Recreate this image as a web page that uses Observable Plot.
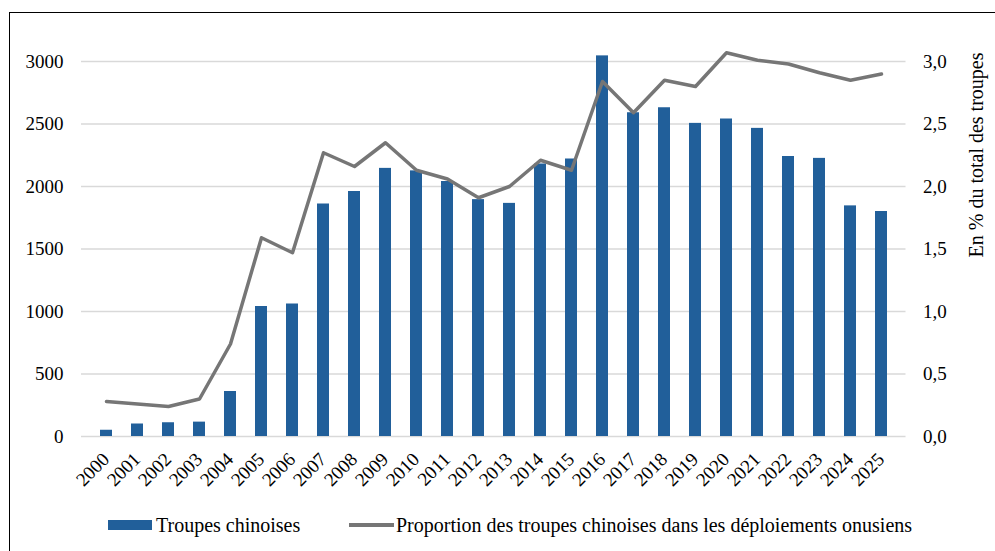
<!DOCTYPE html>
<html>
<head>
<meta charset="utf-8">
<script src="https://cdn.jsdelivr.net/npm/d3@7"></script>
<script src="https://cdn.jsdelivr.net/npm/@observablehq/plot@0.6"></script>
<style>
  html, body { margin: 0; padding: 0; background: #fff; width: 995px; height: 551px; overflow: hidden;
    font-family: "Liberation Serif", "Times New Roman", serif; }
  #frame { position: absolute; left: 9px; top: 12px; width: 1100px; height: 700px;
    border-left: 1.5px solid #000; border-top: 1.5px solid #000; box-sizing: border-box; }
  #chart { position: absolute; left: 0; top: 0; }
  #chart svg, #chart svg text { font-family: "Liberation Serif", "Times New Roman", serif !important; }
  .legend-item { position: absolute; top: 512px; height: 26px; line-height: 26px; display: flex;
    align-items: center; font-size: 20px; color: #000; white-space: nowrap; }
  .sw-bar { width: 44px; height: 10px; background: #215f9a; margin-right: 4px; }
  .sw-line { width: 45px; height: 3.5px; background: #767676; margin-right: 2px; }
</style>
</head>
<body>
<div id="frame"></div>
<div id="chart"></div>
<div class="legend-item" style="left:108px"><span class="sw-bar"></span><span id="lg1"></span></div>
<div class="legend-item" style="left:349px"><span class="sw-line"></span><span id="lg2"></span></div>
<script>
// ---- Data ----
const years = [2000, 2001, 2002, 2003, 2004, 2005, 2006, 2007, 2008, 2009, 2010, 2011, 2012,
  2013, 2014, 2015, 2016, 2017, 2018, 2019, 2020, 2021, 2022, 2023, 2024, 2025];
const troops = [50, 100, 110, 115, 360, 1040, 1060, 1860, 1960, 2145, 2125, 2040, 1895,
  1865, 2180, 2220, 3045, 2590, 2630, 2505, 2540, 2465, 2240, 2225, 1845, 1800];
const pct = [0.28, 0.26, 0.24, 0.30, 0.74, 1.59, 1.47, 2.27, 2.16, 2.35, 2.13, 2.06, 1.91,
  2.00, 2.21, 2.13, 2.84, 2.59, 2.85, 2.80, 3.07, 3.01, 2.98, 2.91, 2.85, 2.90];
const leftTicks = [0, 500, 1000, 1500, 2000, 2500, 3000];
const rightTicks = [0, 0.5, 1.0, 1.5, 2.0, 2.5, 3.0];
const seriesBar = "Troupes chinoises";
const seriesLine = "Proportion des troupes chinoises dans les déploiements onusiens";
const rightTitle = "En % du total des troupes";
const axisRatio = 1000; // 3,0 % on the right axis lines up with 3000 on the left axis

const rows = years.map((y, i) => ({year: y, troops: troops[i], pct: pct[i]}));
const fmtPct = d => (d / axisRatio).toFixed(1).replace(".", ",");

const chart = Plot.plot({
  width: 995,
  height: 500,
  marginTop: 48.5,
  marginBottom: 64,
  marginLeft: 81,
  marginRight: 89.5,
  style: {fontSize: "19px", color: "#000", background: "transparent"},
  x: {type: "band", domain: years, paddingInner: 0.6, paddingOuter: 0.3, axis: null},
  y: {domain: [0, 3100], axis: null},
  marks: [
    Plot.gridY(leftTicks, {stroke: "#d9d9d9", strokeOpacity: 1, strokeWidth: 1.5}),
    Plot.barY(rows, {x: "year", y: "troops", fill: "#215f9a"}),
    Plot.line(rows, {x: "year", y: d => d.pct * axisRatio, stroke: "#767676", strokeWidth: 3.5, strokeLinejoin: "round"}),
    Plot.axisY(leftTicks, {anchor: "left", tickSize: 0, tickPadding: 18, label: null, tickFormat: d => String(d), fill: "#000"}),
    Plot.axisY(rightTicks.map(t => t * axisRatio), {anchor: "right", tickSize: 0, tickPadding: 17, label: null, tickFormat: fmtPct, fill: "#000"}),
    Plot.text(years, {x: d => d, text: d => String(d), frameAnchor: "bottom", rotate: -45,
      textAnchor: "end", lineAnchor: "bottom", dx: 4, dy: 24, fontSize: 19, fill: "#000"}),
    Plot.text([rightTitle], {text: d => d, frameAnchor: "top-right", rotate: -90, textAnchor: "middle",
      lineAnchor: "middle", dx: 71, dy: 106, fontSize: 20, fill: "#000"})
  ]
});
document.getElementById("chart").appendChild(chart);
document.getElementById("lg1").textContent = seriesBar;
document.getElementById("lg2").textContent = seriesLine;
</script>
</body>
</html>
